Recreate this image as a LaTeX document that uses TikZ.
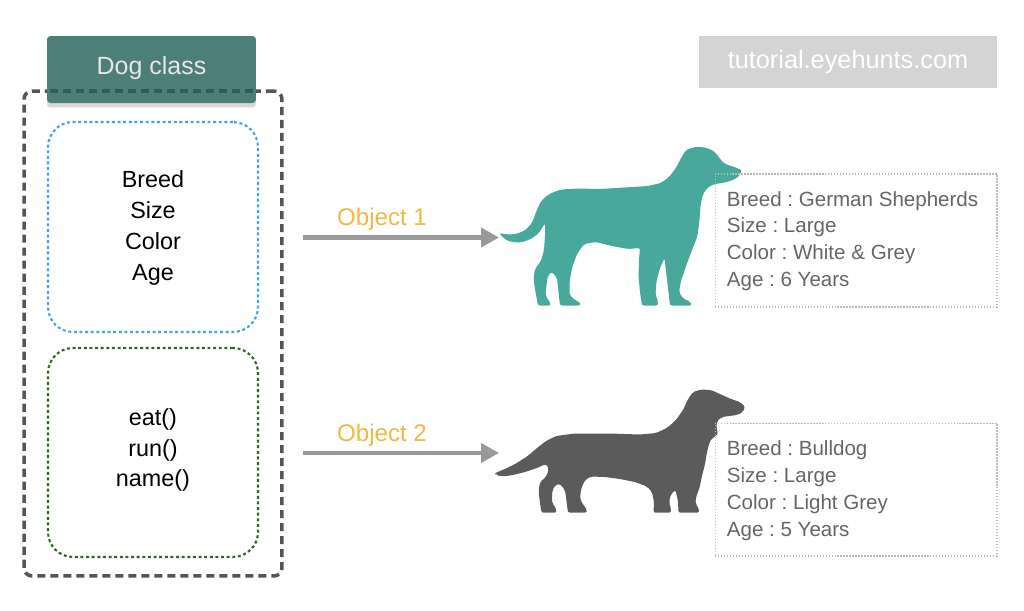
\documentclass[tikz,border=0pt]{standalone}
\usepackage{fontspec}
\setmainfont{Liberation Sans}
\usetikzlibrary{arrows.meta,shadows}
\definecolor{hdr}{HTML}{4C7F78}
\definecolor{hdrdash}{HTML}{345C56}
\definecolor{hdrtxt}{HTML}{E6E6E6}
\definecolor{outerc}{HTML}{555555}
\definecolor{bluedot}{HTML}{42A2F2}
\definecolor{greendot}{HTML}{2C6A1E}
\definecolor{arrowc}{HTML}{999999}
\definecolor{objc}{HTML}{F2B844}
\definecolor{infotxt}{HTML}{666666}
\definecolor{infoborder}{HTML}{BBBBBB}
\definecolor{tutbg}{HTML}{D4D4D4}
\definecolor{dogteal}{HTML}{48A89C}
\definecolor{doggray}{HTML}{5B5B5B}
\frenchspacing
\begin{document}
\begin{tikzpicture}[x=0.02cm,y=-0.02cm,
  outerbox/.style={rectangle,draw=outerc,line width=2pt,dash pattern=on 4.6pt off 2.8pt,rounded corners=0.16cm,minimum width=5.16cm,minimum height=9.7cm,inner sep=0pt},
  hdrbox/.style={rectangle,rounded corners=2pt,fill=hdr,minimum width=4.18cm,minimum height=1.34cm,inner sep=0pt},
  hdrlabel/.style={text=hdrtxt,font=\fontsize{14.2}{17}\selectfont,inner sep=0pt},
  hdrdashseg/.style={draw=hdrdash,line width=2pt},
  attrbox/.style={rectangle,draw=bluedot,line width=1.2pt,dash pattern=on 1.7pt off 1.5pt,rounded corners=0.5cm,minimum width=4.2cm,minimum height=4.2cm,inner sep=0pt},
  methbox/.style={rectangle,draw=greendot,line width=1.2pt,dash pattern=on 1.7pt off 1.5pt,rounded corners=0.5cm,minimum width=4.2cm,minimum height=4.18cm,inner sep=0pt},
  membertext/.style={align=center,font=\fontsize{13.3}{17.6}\selectfont,text=black,inner sep=0pt},
  objlabel/.style={text=objc,font=\fontsize{13.7}{16}\selectfont,inner sep=0pt},
  objarrow/.style={draw=arrowc,line width=2.3pt,-{Triangle[length=0.36cm,width=0.38cm]}},
  infobox/.style={rectangle,draw=infoborder,line width=0.6pt,dash pattern=on 0.8pt off 0.9pt,minimum width=5.64cm,minimum height=2.66cm,inner sep=0pt},
  infotext/.style={align=left,text=infotxt,font=\fontsize{11.7}{15.3}\selectfont,inner sep=0pt,anchor=west},
  tutbox/.style={rectangle,fill=tutbg,minimum width=5.96cm,minimum height=1.04cm,text=white,font=\fontsize{14.4}{17}\selectfont,inner sep=0pt}
]
\useasboundingbox[fill=white] (0,0) rectangle (1024,610);

% class container
\node[outerbox] (cls) at (153,333.5) {};
\node[hdrbox,drop shadow={shadow xshift=0pt,shadow yshift=-2.5pt,opacity=0.3}] (hdr) at (151.5,69.5) {};
\foreach \i in {0,...,15} {
  \draw[hdrdashseg] (50+13*\i,91) -- (58+13*\i,91);
}
\node[hdrlabel] (hdrtext) at (151.5,68) {Dog class};

\node[attrbox] (attr) at (153,227) {};
\node[methbox] (meth) at (153,452.5) {};
\node[membertext] (attrtxt) at (153,228) {Breed\\Size\\Color\\Age};
\node[membertext] (methtxt) at (153,450) {eat()\\run()\\name()};

% watermark
\node[tutbox] (tut) at (848,62) {tutorial.eyehunts.com};

% arrows
\coordinate (s1) at (303,237.5);
\coordinate (e1) at (499,237.5);
\coordinate (s2) at (303,453);
\coordinate (e2) at (499,453);
\draw[objarrow] (s1) -- (e1);
\draw[objarrow] (s2) -- (e2);
\node[objlabel] (o1) at (382,219) {Object 1};
\node[objlabel] (o2) at (382,435) {Object 2};

% teal dog
\fill[dogteal,rounded corners=1.2pt] (741.7,170) -- (740.5,174.5) -- (736,178.5) -- (729,181.5) -- (722,183) -- (715,184) -- (708,187) -- (703,194) -- (700.5,205) -- (699.5,220) -- (697.5,236) -- (692,250) -- (686,266) -- (681,281) -- (679,292) -- (683,298.5) -- (690,301.5) -- (692,305.5) -- (670,305.5) -- (668.5,292) -- (666.5,275) -- (664.5,258) -- (660,268) -- (656.5,281) -- (655.5,295) -- (658,301) -- (658,305.5) -- (642,305.5) -- (640,292) -- (638.5,276) -- (639,260) -- (640,248) -- (628,249) -- (612,246) -- (596,242) -- (584,244) -- (577,254) -- (572,268) -- (569.5,282) -- (569.5,295) -- (575,300) -- (580.5,303) -- (580,305.5) -- (560,305.5) -- (558.5,292) -- (557,278) -- (552,272) -- (548,275) -- (546.5,285) -- (545.5,296) -- (549,300.5) -- (551,305.5) -- (538,305.5) -- (535.5,292) -- (533.5,279) -- (535,269) -- (541,261) -- (544,250) -- (545,236) -- (545,223) -- (539,233) -- (531,239) -- (521,242.5) -- (511,242) -- (504,238.5) -- (499,233) -- (507,234.5) -- (516,234) -- (525,230.5) -- (532,223) -- (536,212) -- (541,201) -- (549,194) -- (561,189.5) -- (578,188.5) -- (600,189) -- (625,187.5) -- (648,186) -- (661,183) -- (669,177) -- (676,168) -- (681,158) -- (686,150) -- (694,147) -- (703,147) -- (711,149.5) -- (716,153) -- (720,159) -- (725,164) -- (733,166.5) -- cycle;

% gray dog
\fill[doggray,rounded corners=1.2pt] (745,406.5) -- (743,412) -- (737,415) -- (729,416) -- (722,417) -- (717,421) -- (716.5,428) -- (718,434.5) -- (713,437.5) -- (709.5,442) -- (707,452) -- (705,464) -- (702,476) -- (699.5,488) -- (696,497) -- (695.5,504) -- (699,508.5) -- (699,512.7) -- (678.5,512.7) -- (678,501) -- (675.5,490) -- (671,494) -- (669,502) -- (671,509) -- (671,512.7) -- (653.5,512.7) -- (654,502) -- (652,492) -- (647,486.5) -- (635,482) -- (620,479) -- (605,477) -- (591,476.5) -- (585,480) -- (581,489) -- (580,499) -- (584,506) -- (587,509.5) -- (586.5,512.7) -- (568,512.7) -- (566.5,501) -- (565,490) -- (560,484) -- (555,485) -- (552,492) -- (552,503) -- (556,508) -- (556.5,512.7) -- (541.5,512.7) -- (540,503) -- (538.5,491) -- (540,482) -- (546,477) -- (549,469) -- (546,464) -- (537,468) -- (525,472) -- (513,475) -- (503,476.5) -- (496,475) -- (495,473) -- (505,469) -- (516,463.5) -- (527,456.5) -- (537,448) -- (546,441) -- (556,436) -- (575,433.5) -- (610,433.5) -- (640,434.5) -- (656,433) -- (667,428) -- (676,420) -- (683,410) -- (688,399) -- (693,392) -- (701,389.5) -- (711,390) -- (721,394.5) -- (731,399) -- (740,402) -- cycle;

% info boxes
\node[infobox] (info1) at (856,240.5) {};
\node[infotext] (info1txt) at (726.5,241) {Breed : German Shepherds\\Size : Large\\Color : White \& Grey\\Age : 6 Years};
\node[infobox] (info2) at (856,489.5) {};
\node[infotext] (info2txt) at (726.5,490.5) {Breed : Bulldog\\Size : Large\\Color : Light Grey\\Age : 5 Years};
\end{tikzpicture}
\end{document}
